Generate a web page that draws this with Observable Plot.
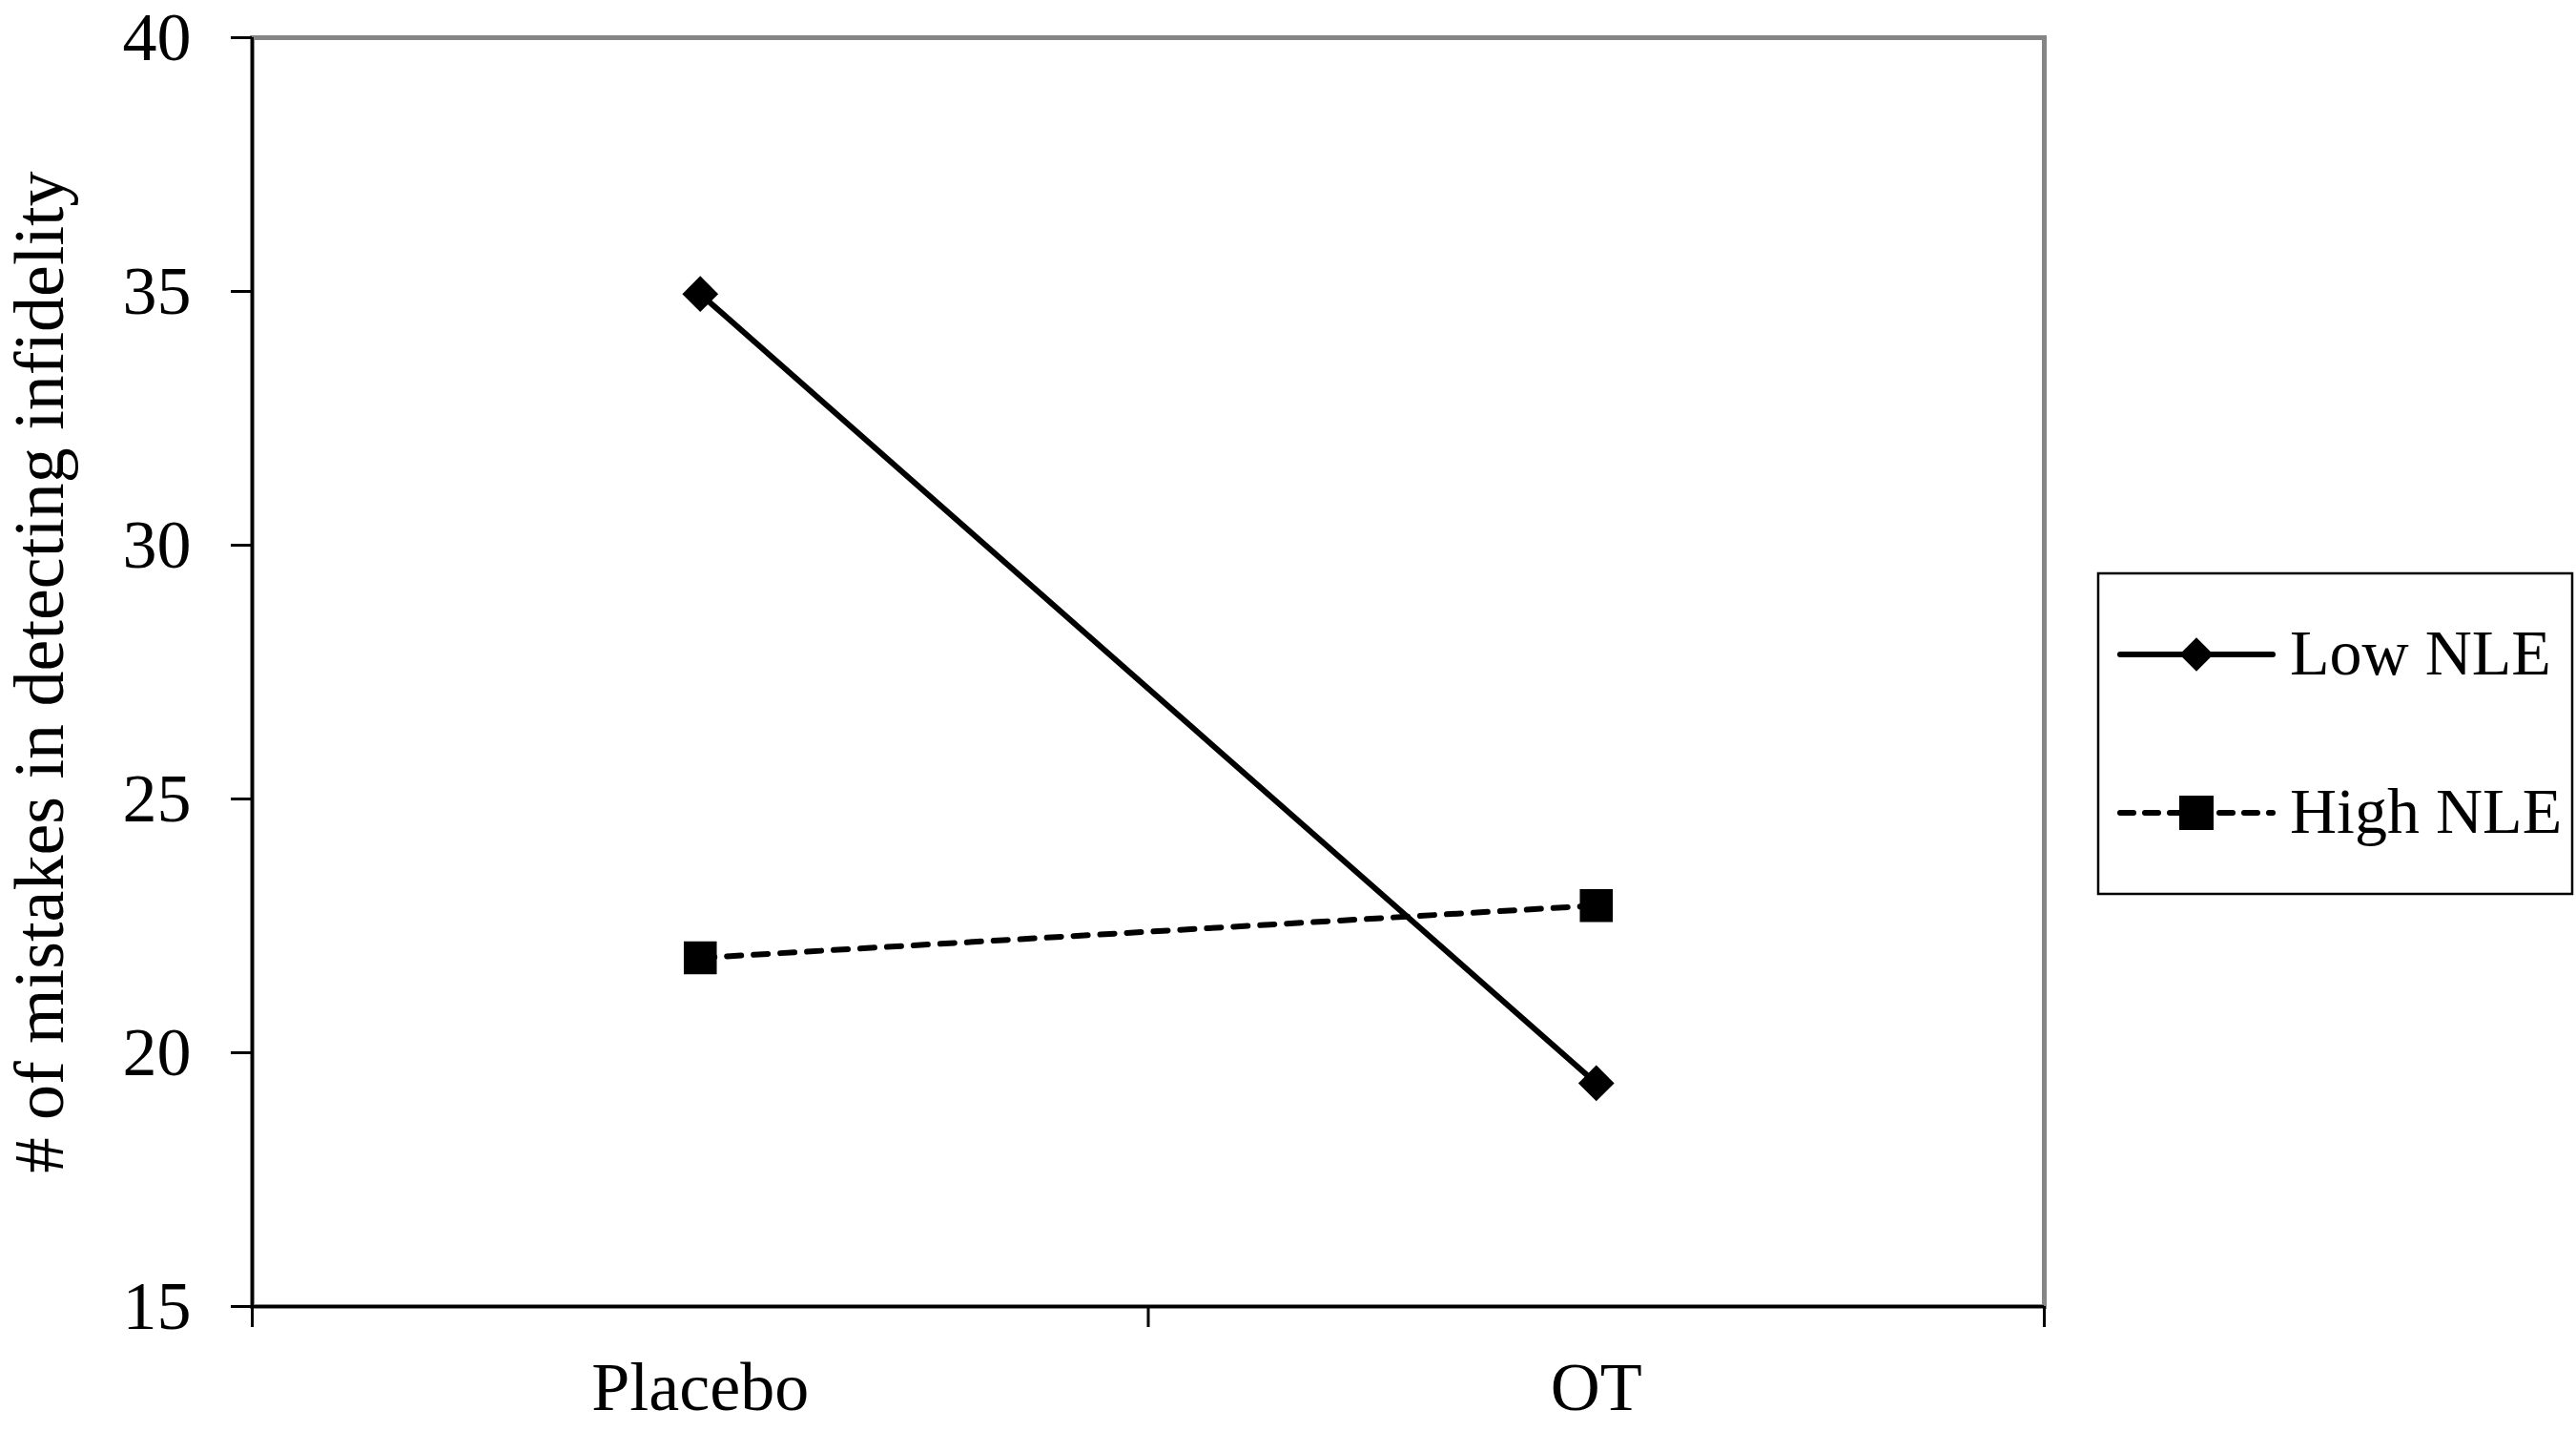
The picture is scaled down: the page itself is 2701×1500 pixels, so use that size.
<!DOCTYPE html>
<html><head><meta charset="utf-8">
<script src="https://cdn.jsdelivr.net/npm/d3@7"></script>
<script src="https://cdn.jsdelivr.net/npm/@observablehq/plot@0.6"></script>
<style>
body{margin:0;background:#fff}
#wrap{position:relative;width:2701px;height:1500px;background:#fff}
#legend{position:absolute;left:0;top:0}
</style>
</head><body><div id="wrap"></div>
<script>
const conditions = ["Placebo", "OT"];
const lowNLE = [34.95, 19.4];
const highNLE = [21.87, 22.9];
const seriesNames = ["Low NLE", "High NLE"];
const yTicks = [15, 20, 25, 30, 35, 40];
const yLabel = "# of mistakes in detecting infidelity";

const FONT = "'Liberation Serif','Times New Roman',serif";
const lowData = conditions.map((c, i) => ({cond: c, pos: i + 0.5, value: lowNLE[i]}));
const highData = conditions.map((c, i) => ({cond: c, pos: i + 0.5, value: highNLE[i]}));

const plot = Plot.plot({
  width: 2701, height: 1500,
  marginLeft: 264, marginRight: 558, marginTop: 39, marginBottom: 131,
  style: {fontFamily: FONT, fontSize: "72px", color: "#000", background: "#fff", overflow: "visible"},
  x: {type: "linear", domain: [0, conditions.length], axis: null},
  y: {domain: [15, 40], axis: null},
  marks: [
    Plot.frame({stroke: "#858585", strokeWidth: 5}),
    Plot.axisY({ticks: yTicks, tickSize: 22, tickPadding: 42, strokeWidth: 3, label: null, fontSize: 72}),
    Plot.axisX({ticks: d3.range(conditions.length + 1), tickSize: 22, tickFormat: () => "", strokeWidth: 3, label: null}),
    Plot.axisX({ticks: conditions.map((c, i) => i + 0.5), tickSize: 0, tickPadding: 57, tickFormat: v => conditions[Math.floor(v)], label: null, fontSize: 72}),
    Plot.ruleX([0], {stroke: "#000", strokeWidth: 3}),
    Plot.ruleY([15], {stroke: "#000", strokeWidth: 3}),
    Plot.text([yLabel], {text: d => d, frameAnchor: "left", rotate: -90, dx: -222, fontSize: 74, textAnchor: "middle", fill: "#000"}),
    Plot.line(highData, {x: "pos", y: "value", stroke: "#000", strokeWidth: 6, strokeDasharray: "15,13", strokeLinecap: "round"}),
    Plot.line(lowData, {x: "pos", y: "value", stroke: "#000", strokeWidth: 6}),
    Plot.dot(lowData, {x: "pos", y: "value", symbol: "diamond2", r: 17, fill: "#000", stroke: "none"}),
    Plot.dot(highData, {x: "pos", y: "value", symbol: "square", r: 19.5, fill: "#000", stroke: "none"})
  ]
});
const wrap = document.getElementById("wrap");
wrap.appendChild(plot);

// Legend
const lg = d3.select(wrap).append("svg").attr("id", "legend")
  .attr("width", 2701).attr("height", 1500);
lg.append("rect").attr("x", 2200).attr("y", 601).attr("width", 497).attr("height", 336)
  .attr("fill", "#fff").attr("stroke", "#000").attr("stroke-width", 2.5);
const rowsY = [686, 852];
seriesNames.forEach((name, i) => {
  const y = rowsY[i];
  lg.append("line").attr("x1", 2223).attr("x2", 2383).attr("y1", y).attr("y2", y)
    .attr("stroke", "#000").attr("stroke-width", 6).attr("stroke-linecap", "round")
    .attr("stroke-dasharray", i === 1 ? "14,12" : null);
  const sym = i === 0 ? d3.symbol(d3.symbolDiamond2, Math.PI * 16 * 16) : d3.symbol(d3.symbolSquare, 36 * 36);
  lg.append("path").attr("d", sym()).attr("transform", `translate(2303,${y})`).attr("fill", "#000");
  lg.append("text").attr("x", 2401).attr("y", y + 21).attr("font-family", FONT)
    .attr("font-size", 68).attr("fill", "#000").text(name);
});
</script>
</body></html>
